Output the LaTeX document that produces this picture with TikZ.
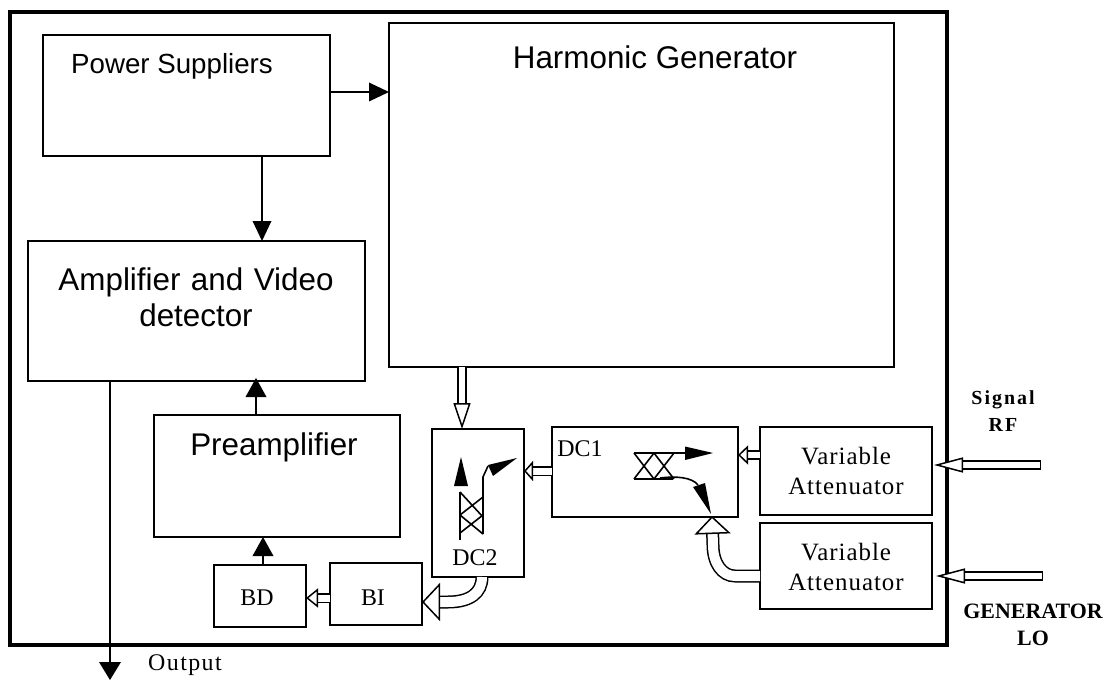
\documentclass[tikz,border=0pt]{standalone}
\usepackage{fontspec}
\setmainfont{Liberation Serif}
\setsansfont{Liberation Sans}
\usetikzlibrary{arrows.meta,calc}
\newcommand{\fs}[1]{\fontsize{#1}{#1}\selectfont}
\tikzset{
  x=1bp,y=-1bp,
  box/.style={draw=black,line width=1.8bp,inner sep=0pt,outer sep=0pt,fill=white,anchor=north west},
  sanstext/.style={font=\sffamily\fs{31.5},align=center,inner sep=0pt},
  serif/.style={font=\fs{24},align=center,inner sep=0pt},
  boldlabel/.style={font=\bfseries\fs{20},align=center,inner sep=0pt},
  flow/.style={draw=black,line width=1.9bp,-{Triangle[length=20bp,width=19bp,line width=0pt]}},
  hollow/.style={draw=black,line width=1.5bp,double=white,double distance=#1},
  hollow/.default=6bp,
  thin part/.style={draw=black,line width=1.6bp},
  solid head/.style={fill=black,draw=none},
}
\begin{document}
\begin{tikzpicture}
\useasboundingbox (0,0) rectangle (1116,680);
\fill[white] (0,0) rectangle (1116,680);
% outer frame
\node[box,line width=4bp,fill=none,minimum width=937bp,minimum height=633bp] (frame) at (10,12) {};
% boxes
\node[box,minimum width=287bp,minimum height=121bp] (ps) at (43,35) {};
\node[box,minimum width=505bp,minimum height=344bp] (hg) at (389,23) {};
\node[box,minimum width=337bp,minimum height=140bp] (amp) at (28,241) {};
\node[box,minimum width=246bp,minimum height=122bp] (pre) at (154,415) {};
\node[box,minimum width=92bp,minimum height=62bp] (bd) at (214,565) {};
\node[box,minimum width=92bp,minimum height=62bp] (bi) at (330,563) {};
\node[box,minimum width=92bp,minimum height=148bp] (dc2) at (432,429) {};
\node[box,minimum width=186bp,minimum height=90bp] (dc1) at (552,427) {};
\node[box,minimum width=172bp,minimum height=88bp] (va1) at (760,427) {};
\node[box,minimum width=172bp,minimum height=86bp] (va2) at (760,523) {};
% texts
\node[sanstext,font=\sffamily\fs{27.8}] (tps) at (172,66) {Power Suppliers};
\node[sanstext] (thg) at (655,57) {Harmonic Generator};
\node[sanstext,text width=320bp] (tamp) at (196,297) {Amplifier and Video\\[5bp]detector};
\node[sanstext] (tpre) at (274,447) {Preamplifier};
\node[serif] (tbd) at (257,598) {BD};
\node[serif] (tbi) at (373,598) {BI};
\node[serif] (tdc1) at (580,449) {DC1};
\node[serif] (tdc2) at (475,558) {DC2};
\node[serif,font=\addfontfeature{LetterSpace=4}\fs{25},text width=170bp] (tva1) at (846,471) {Variable\\[6bp]Attenuator};
\node[serif,font=\addfontfeature{LetterSpace=4}\fs{25},text width=170bp] (tva2) at (846,567) {Variable\\[6bp]Attenuator};
\node[serif,font=\addfontfeature{LetterSpace=6}\fs{24}] (tout) at (185,665) {Output};
\node[boldlabel,font=\bfseries\addfontfeature{LetterSpace=10}\fs{20}] (trf) at (1003,411) {Signal\\[7bp]RF};
\node[boldlabel,font=\bfseries\fs{22}] (tlo) at (1033,625) {GENERATOR\\[5bp]LO};
% solid connectors
\draw[flow] ([yshift=3.5bp]ps.east) -- ([yshift=3.5bp]ps.east -| hg.west);
\draw[flow] ([xshift=75.5bp]ps.south) -- ([xshift=75.5bp]ps.south |- amp.north);
\draw[flow,-{Triangle[length=19bp,width=21bp,line width=0pt]}] ([xshift=-21bp]pre.north) -- ([xshift=59.5bp,yshift=3bp]amp.south);
\draw[flow,-{Triangle[length=19bp,width=21bp,line width=0pt]}] ([xshift=3bp]bd.north) -- ([xshift=3bp]bd.north |- pre.south);
\coordinate (outend) at (110,680);
\draw[flow,-{Triangle[length=18bp,width=22bp,line width=0pt]}] ([xshift=-86.5bp]amp.south) -- (outend);
% hollow straight connectors
\draw[hollow=6.5bp,-{Triangle[length=26bp,width=17bp,fill=white,line width=1.5bp]}]
  ([xshift=-16bp]dc2.north |- hg.south) -- ([xshift=-16bp]dc2.north);
\draw[hollow=7bp,-{Triangle[length=9bp,width=20bp,fill=white,line width=1.5bp]}]
  ([yshift=1bp]dc1.west) -- ([yshift=1bp]dc1.west -| dc2.east);
\draw[hollow=6.5bp,-{Triangle[length=10bp,width=19bp,fill=white,line width=1.5bp]}]
  ([yshift=16bp]va1.west) -- ([yshift=16bp]va1.west -| dc1.east);
\draw[hollow=7bp,-{Triangle[length=12bp,width=19bp,fill=white,line width=1.5bp]}]
  ([yshift=-4bp]bi.west) -- ([yshift=-4bp]bi.west -| bd.east);
\coordinate (rfin) at (1041,465);
\coordinate (loin) at (1043,576);
\coordinate (rftip) at (934,465);
\coordinate (lotip) at (936,576);
\draw[hollow=6.5bp,{Bar[width=9.4bp,line width=1.5bp]}-{Triangle[length=29bp,width=15bp,fill=white,line width=1.5bp]}]
  (rfin) -- (rftip);
\draw[hollow=6.5bp,{Bar[width=9.4bp,line width=1.5bp]}-{Triangle[length=29bp,width=15bp,fill=white,line width=1.5bp]}]
  (loin) -- (lotip);
% hollow curved connectors
\draw[hollow=10bp,-{Triangle[length=18bp,width=38bp,fill=white,line width=1.5bp]}]
  ([xshift=4bp]dc2.south) .. controls (482,593) and (470,602) .. (448,602) -- (bi.east |- 0,602);
\draw[hollow=10bp,-{Triangle[length=18bp,width=36bp,fill=white,line width=1.5bp]}]
  (va2.west |- 0,576) -- (735,576) .. controls (722,576) and (713,563) .. (713,545) -- (712,516);
% DC1 coupler
\draw[thin part] (634,453) -- (690,453);
\draw[thin part] (634,479) -- (673,479);
\draw[thin part] (634,453) -- (654,479) (654,453) -- (634,479) (654,453) -- (674,479) (674,453) -- (654,479);
\draw[thin part] (660,478) .. controls (675,476) and (692,477) .. (698,485);
\fill[solid head] (713,453) -- (685,446.5) -- (685,460) -- cycle;
\fill[solid head] (711,514) -- (693,487) -- (705,483) -- cycle;
% DC2 coupler
\draw[thin part] (460,492) -- (460,540);
\draw[thin part] (483,534) -- (483,477) -- (488,466);
\draw[thin part] (460,492) -- (483,517) (483,497) -- (460,515) (460,515) -- (483,534) (483,515) -- (460,533);
\fill[solid head] (461,457) -- (454,486) -- (468,486) -- cycle;
\fill[solid head] (517,458) -- (488,465) -- (493,476) -- cycle;
\end{tikzpicture}
\end{document}
